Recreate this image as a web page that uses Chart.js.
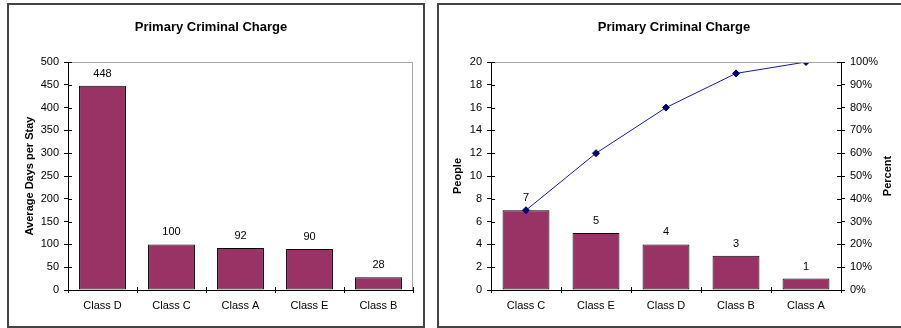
<!DOCTYPE html>
<html>
<head>
<meta charset="utf-8">
<script src="https://cdn.jsdelivr.net/npm/chart.js@4.4.1/dist/chart.umd.min.js"></script>
<style>
  body { margin: 0; background: #fff; width: 901px; height: 328px; overflow: hidden; position: relative; }
  .panel { position: absolute; box-sizing: border-box; border: 2px solid #444; }
  canvas { position: absolute; }
</style>
</head>
<body>
<div class="panel" style="left:7px; top:3px; width:418px; height:325px;"></div>
<div class="panel" style="left:437px; top:3px; width:468px; height:325px;"></div>
<canvas id="daysChart" width="414" height="320" style="left:9px; top:5px;"></canvas>
<canvas id="peopleChart" width="459" height="320" style="left:439px; top:5px;"></canvas>
<script>
// left chart: average stay by charge class
var dayClasses = ["Class D", "Class C", "Class A", "Class E", "Class B"];
var avgDays = [448, 100, 92, 90, 28];

// right chart: pareto of people by charge class
var peopleClasses = ["Class C", "Class E", "Class D", "Class B", "Class A"];
var peopleCount = [7, 5, 4, 3, 1];
var cumPercent = [0.35, 0.60, 0.80, 0.95, 1.00];

var barColor = '#993366';
var lineColor = '#1a1a9e';

Chart.defaults.font.family = '"Liberation Sans", Arial, sans-serif';
Chart.defaults.font.size = 11;
Chart.defaults.color = '#000';

// numbers above the bars
var barLabels = {
    id: 'barLabels',
    afterDatasetsDraw: function(chart) {
        var ctx = chart.ctx;
        ctx.save();
        ctx.font = '11px "Liberation Sans", Arial, sans-serif';
        ctx.fillStyle = '#000';
        ctx.textAlign = 'center';
        ctx.textBaseline = 'middle';
        chart.data.datasets.forEach(function(ds, i) {
            if (ds.type && ds.type !== 'bar') return;
            chart.getDatasetMeta(i).data.forEach(function(bar, j) {
                ctx.fillText(ds.data[j], bar.x, bar.y - 12);
            });
        });
        ctx.restore();
    }
};

// gray plot border + ticks that cross the axes
var plotFrame = {
    id: 'plotFrame',
    afterDraw: function(chart, args, opts) {
        var ctx = chart.ctx, a = chart.chartArea;
        ctx.save();
        ctx.strokeStyle = '#a6a6a6';
        ctx.lineWidth = 1;
        ctx.beginPath();
        ctx.moveTo(a.left, a.top + 0.5);
        ctx.lineTo(a.right, a.top + 0.5);
        if (opts.rightGray) {
            ctx.moveTo(a.right - 0.5, a.top);
            ctx.lineTo(a.right - 0.5, a.bottom);
        }
        ctx.stroke();

        ctx.strokeStyle = '#000';
        ctx.beginPath();
        var x = chart.scales.x;
        var n = chart.data.labels.length;
        for (var i = 0; i <= n; i++) {
            var px = Math.round(x.left + i * x.width / n) + 0.5;
            ctx.moveTo(px, a.bottom);
            ctx.lineTo(px, a.bottom - 3);
        }
        var y = chart.scales.y;
        y.ticks.forEach(function(t) {
            var py = Math.round(y.getPixelForValue(t.value)) + 0.5;
            ctx.moveTo(a.left, py);
            ctx.lineTo(a.left + 4, py);
        });
        if (chart.scales.y1) {
            var y1 = chart.scales.y1;
            y1.ticks.forEach(function(t) {
                var py = Math.round(y1.getPixelForValue(t.value)) + 0.5;
                ctx.moveTo(a.right, py);
                ctx.lineTo(a.right - 4, py);
            });
        }
        ctx.stroke();

        if (opts.rightTitle) {
            ctx.font = 'bold 11px "Liberation Sans", Arial, sans-serif';
            ctx.fillStyle = '#000';
            ctx.textAlign = 'center';
            ctx.textBaseline = 'middle';
            ctx.translate(opts.rightTitleX, (a.top + a.bottom) / 2);
            ctx.rotate(-Math.PI / 2);
            ctx.fillText(opts.rightTitle, 0, 0);
        }
        ctx.restore();
    }
};

var titleOpts = {
    display: true,
    text: 'Primary Criminal Charge',
    color: '#000',
    font: { size: 13, weight: 'bold' },
    padding: { top: 14.4, bottom: 27 }
};

new Chart(document.getElementById('daysChart'), {
    type: 'bar',
    data: {
        labels: dayClasses,
        datasets: [{
            data: avgDays,
            backgroundColor: barColor,
            borderColor: '#000',
            borderWidth: 1,
            borderSkipped: false,
            categoryPercentage: 1,
            barPercentage: 0.68
        }]
    },
    options: {
        responsive: false,
        animation: false,
        layout: { padding: { left: 0, right: 10, top: 0, bottom: 0 } },
        plugins: {
            legend: { display: false },
            tooltip: { enabled: false },
            title: titleOpts,
            plotFrame: { rightGray: true }
        },
        scales: {
            x: {
                grid: { drawOnChartArea: false, color: '#000', tickLength: 3 },
                border: { color: '#000' },
                ticks: { padding: 6 },
                afterFit: function(s) { s.height = 35; }
            },
            y: {
                min: 0, max: 500,
                ticks: { stepSize: 50, padding: 5 },
                grid: { drawOnChartArea: false, color: '#000', tickLength: 4 },
                border: { color: '#000' },
                title: { display: true, text: 'Average Days per Stay', font: { size: 11, weight: 'bold' }, padding: { top: 14.4 } },
                afterFit: function(s) { s.width = 59; }
            }
        }
    },
    plugins: [barLabels, plotFrame]
});

new Chart(document.getElementById('peopleChart'), {
    type: 'bar',
    data: {
        labels: peopleClasses,
        datasets: [{
            type: 'line',
            data: cumPercent,
            yAxisID: 'y1',
            borderColor: lineColor,
            borderWidth: 1,
            pointStyle: 'rectRot',
            pointRadius: 3.5,
            pointBackgroundColor: '#000080',
            pointBorderColor: '#000080',
            tension: 0,
            order: 0
        }, {
            type: 'bar',
            data: peopleCount,
            yAxisID: 'y',
            backgroundColor: barColor,
            borderColor: '#000',
            borderWidth: 1,
            borderSkipped: false,
            categoryPercentage: 1,
            barPercentage: 0.67,
            order: 1
        }]
    },
    options: {
        responsive: false,
        animation: false,
        layout: { padding: { left: 11, right: 0, top: 0, bottom: 0 } },
        plugins: {
            legend: { display: false },
            tooltip: { enabled: false },
            title: titleOpts,
            plotFrame: { rightGray: false, rightTitle: 'Percent', rightTitleX: 449 }
        },
        scales: {
            x: {
                grid: { drawOnChartArea: false, color: '#000', tickLength: 3 },
                border: { color: '#000' },
                ticks: { padding: 6 },
                afterFit: function(s) { s.height = 35; }
            },
            y: {
                position: 'left',
                min: 0, max: 20,
                ticks: { stepSize: 2, padding: 5 },
                grid: { drawOnChartArea: false, color: '#000', tickLength: 4 },
                border: { color: '#000' },
                title: { display: true, text: 'People', font: { size: 11, weight: 'bold' }, padding: { top: 1.4 } },
                afterFit: function(s) { s.width = 41; }
            },
            y1: {
                position: 'right',
                min: 0, max: 1,
                ticks: {
                    stepSize: 0.1, padding: 5,
                    callback: function(v) { return Math.round(v * 100) + '%'; }
                },
                grid: { drawOnChartArea: false, color: '#000', tickLength: 4 },
                border: { color: '#000' },
                afterFit: function(s) { s.width = 57; }
            }
        }
    },
    plugins: [barLabels, plotFrame]
});
</script>
</body>
</html>
